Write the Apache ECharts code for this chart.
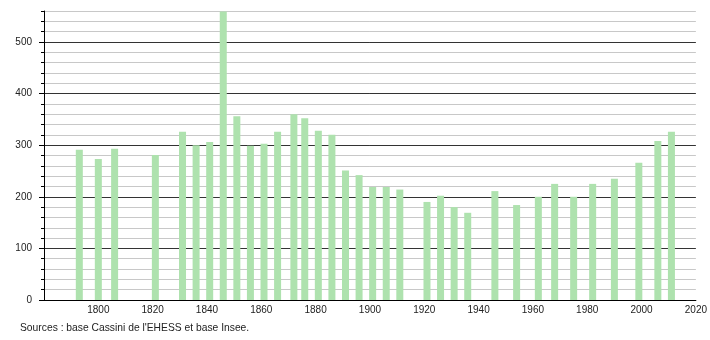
<!DOCTYPE html>
<html>
<head>
<meta charset="utf-8">
<script src="https://cdn.jsdelivr.net/npm/echarts@6/dist/echarts.min.js"></script>
<style>
html,body{margin:0;padding:0;background:#fff;}
#c{width:710px;height:340px;}
</style>
</head>
<body>
<div id="c"></div>
<script>
const years = [1793,1800,1806,1821,1831,1836,1841,1846,1851,1856,1861,1866,1872,1876,1881,1886,1891,1896,1901,1906,1911,1921,1926,1931,1936,1946,1954,1962,1968,1975,1982,1990,1999,2006,2011];
const population = [291,273,293,281,326,300,306,559,356,299,303,326,360,352,328,320,251,242,219,219,214,190,202,180,169,211,184,200,225,200,225,235,266,308,326];
const yMajorTicks = [0,100,200,300,400,500];
const sourceText = "Sources : base Cassini de l'EHESS et base Insee.";

const chart = echarts.init(document.getElementById('c'), null, {renderer: 'canvas'});
const font = 'Liberation Sans, Arial, sans-serif';
chart.setOption({
  animation: false,
  backgroundColor: '#fff',
  grid: {left: 44, right: 13, top: 11, bottom: 40},
  xAxis: {
    type: 'value', min: 1780, max: 2020, interval: 20,
    axisLine: {show: true, onZero: false, lineStyle: {color: '#000', width: 1}},
    axisTick: {show: false},
    splitLine: {show: false},
    axisLabel: {showMinLabel: false, color: '#222', fontSize: 10, fontFamily: font, margin: 5,
      formatter: v => String(v)}
  },
  yAxis: [{
    type: 'value', min: 0, max: 560, interval: 20,
    axisLine: {show: true, lineStyle: {color: '#000', width: 1}},
    axisTick: {show: true, length: 3, lineStyle: {color: '#000'}},
    axisLabel: {color: '#222', fontSize: 10, fontFamily: font, margin: 12,
      formatter: v => (v % 100 === 0 ? String(v) : '')},
    splitLine: {show: true, lineStyle: {color: ['#333', '#c8c8c8', '#c8c8c8', '#c8c8c8', '#c8c8c8'], width: 1}}
  }, {
    type: 'value', min: 0, max: 560, position: 'left',
    axisLine: {show: false},
    axisTick: {show: true, length: 5, lineStyle: {color: '#000'}, customValues: yMajorTicks},
    axisLabel: {show: false},
    splitLine: {show: false}
  }],
  graphic: [{
    type: 'text', left: 20, top: 323,
    style: {text: sourceText, fill: '#222', font: '10.3px ' + font}
  }],
  series: [{
    type: 'bar',
    barWidth: 7,
    data: years.map((y, i) => [y, population[i]]),
    itemStyle: {color: '#aee2ae'},
    z: 3
  }]
});
</script>
</body>
</html>
